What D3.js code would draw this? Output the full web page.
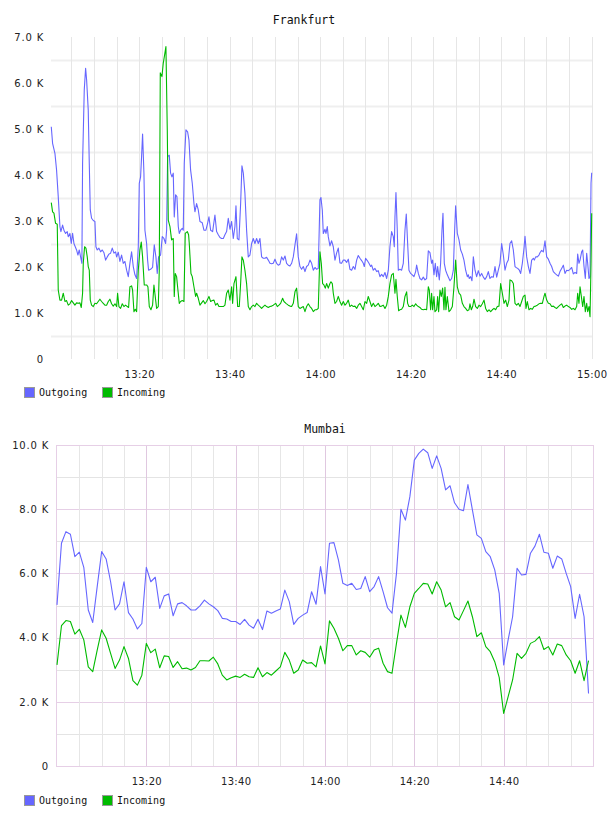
<!DOCTYPE html>
<html>
<head>
<meta charset="utf-8">
<script src="https://cdn.jsdelivr.net/npm/d3@7"></script>
<style>
body { margin: 0; background: #fff; }
svg text { font-family: "DejaVu Sans", sans-serif; }
</style>
</head>
<body>
<div id="wrapper"></div>
<script>
const seriesNames = ["Outgoing", "Incoming"];
const seriesColors = ["#6666ff", "#00bb00"];

// Frankfurt: [minutes after 13:00, value in K]
const fraOut = [
  [0.56,5.05],[0.85,4.69],[1.37,4.47],[1.73,4.11],[2.10,3.53],[2.47,2.88],[2.69,2.77],[3.06,2.91],[3.36,2.80],[3.72,2.73],
  [4.09,2.77],[4.31,2.66],[4.68,2.73],[4.98,2.51],[5.27,2.73],[5.57,2.51],[5.86,2.44],[6.15,2.37],[6.45,2.26],[6.74,2.37],
  [7.04,2.22],[7.33,2.08],[7.48,4.25],[7.85,5.85],[8.15,6.32],[8.37,6.07],[8.73,5.41],[8.96,4.25],[9.18,3.24],[9.47,3.06],
  [9.84,3.01],[10.21,2.99],[10.43,2.44],[10.72,2.37],[11.09,2.41],[11.46,2.33],[11.83,2.37],[12.20,2.31],[12.57,2.15],[12.93,2.22],
  [13.30,2.28],[13.67,2.30],[14.04,2.41],[14.41,2.30],[14.78,2.33],[15.00,2.22],[15.37,2.32],[15.73,2.12],[16.10,2.26],[16.47,2.08],
  [16.84,2.12],[17.21,1.93],[17.58,1.79],[17.94,2.08],[18.31,2.33],[18.68,2.01],[19.05,1.83],[19.42,1.75],[19.79,2.44],[20.01,3.82],
  [20.30,3.96],[20.52,4.40],[20.74,4.89],[21.04,4.04],[21.26,2.80],[21.63,2.51],[21.85,2.15],[22.07,1.93],[22.51,1.95],[22.95,1.99],
  [23.32,2.48],[23.69,2.22],[23.98,1.86],[24.28,2.22],[24.72,2.26],[25.09,2.66],[25.46,2.62],[25.83,2.51],[26.05,2.80],[26.27,4.40],
  [26.64,4.43],[26.93,4.04],[27.23,3.96],[27.52,4.04],[27.74,3.09],[28.04,3.57],[28.33,3.53],[28.63,2.88],[28.85,2.73],[29.14,2.80],
  [29.51,2.84],[29.73,2.80],[29.95,4.25],[30.32,4.98],[30.69,4.94],[30.99,4.76],[31.35,4.11],[31.72,3.82],[32.09,3.38],[32.31,3.20],
  [32.68,3.38],[33.05,3.24],[33.42,2.99],[33.93,2.96],[34.30,2.80],[34.74,2.80],[35.11,2.95],[35.41,3.09],[35.78,2.80],[36.22,2.77],
  [36.73,3.13],[37.10,2.77],[37.47,2.70],[37.84,2.64],[38.21,2.62],[38.58,2.62],[38.94,2.70],[39.31,2.77],[39.68,3.06],[40.05,2.82],
  [40.42,2.99],[40.79,2.62],[41.15,2.88],[41.38,3.33],[41.67,2.62],[42.04,2.59],[42.41,3.38],[42.70,4.20],[43.00,4.04],[43.36,3.60],
  [43.73,2.80],[44.10,2.22],[44.47,2.26],[44.84,2.51],[45.21,2.62],[45.57,2.51],[45.94,2.62],[46.31,2.51],[46.68,2.62],[47.05,2.22],
  [47.42,2.19],[47.79,2.19],[48.15,2.21],[48.52,2.15],[48.89,2.08],[49.26,2.07],[49.63,2.08],[50.00,2.17],[50.36,2.08],[50.73,2.04],
  [51.10,2.06],[51.47,2.22],[51.84,2.15],[52.21,2.24],[52.57,2.08],[52.94,2.04],[53.31,2.02],[53.68,2.08],[54.05,2.22],[54.42,2.48],
  [54.78,2.72],[55.15,2.22],[55.52,2.01],[55.89,1.95],[56.26,2.01],[56.63,1.90],[56.99,2.01],[57.36,2.04],[57.73,2.15],[58.10,2.08],
  [58.47,1.93],[58.84,1.99],[59.21,1.95],[59.57,1.97],[59.94,3.46],[60.16,3.51],[60.46,3.24],[60.68,2.73],[61.05,2.82],[61.27,2.73],
  [61.56,2.88],[61.78,2.66],[62.15,2.46],[62.52,2.57],[62.89,2.44],[63.26,2.15],[63.62,2.30],[63.99,2.41],[64.36,2.09],[64.73,2.08],
  [65.10,2.15],[65.47,2.15],[65.83,2.10],[66.20,2.17],[66.57,1.95],[66.94,1.93],[67.31,2.01],[67.68,1.95],[68.05,2.15],[68.41,2.25],
  [68.78,2.19],[69.15,2.14],[69.52,2.08],[69.74,2.01],[70.03,2.19],[70.40,2.14],[70.77,2.08],[71.14,2.01],[71.36,2.04],[71.73,1.93],
  [72.10,1.97],[72.47,1.90],[72.83,1.92],[73.20,1.79],[73.57,1.84],[73.94,1.79],[74.31,1.88],[74.68,1.75],[75.05,1.93],[75.41,2.44],
  [75.78,2.77],[76.15,2.66],[76.37,2.44],[76.52,3.09],[76.74,3.62],[77.03,2.80],[77.26,1.93],[77.62,1.95],[77.99,1.93],[78.36,2.08],
  [78.73,2.80],[79.02,3.15],[79.32,2.51],[79.61,1.93],[79.98,1.86],[80.35,1.83],[80.72,1.79],[81.09,1.90],[81.31,2.04],[81.68,1.86],
  [82.04,1.75],[82.41,1.72],[82.78,1.78],[83.15,1.72],[83.52,1.75],[83.89,2.35],[84.26,2.31],[84.62,2.08],[84.84,2.15],[85.14,1.83],
  [85.43,2.08],[85.73,1.79],[85.95,2.01],[86.32,1.72],[86.61,2.08],[86.91,2.80],[87.13,3.17],[87.42,2.08],[87.72,1.93],[88.09,1.83],
  [88.68,1.70],[89.05,1.75],[89.42,1.93],[89.71,2.80],[89.93,3.33],[90.30,2.73],[90.67,2.59],[91.04,2.37],[91.41,2.28],[91.77,2.15],
  [92.14,1.93],[92.51,1.79],[92.73,1.83],[92.95,1.75],[93.25,1.79],[93.54,1.70],[93.84,2.22],[94.21,1.93],[94.57,1.79],[94.94,1.92],
  [95.31,1.80],[95.68,1.86],[96.05,1.78],[96.42,1.73],[96.79,1.79],[97.15,1.90],[97.52,1.75],[97.89,1.79],[98.26,1.78],[98.63,2.01],
  [99.00,1.78],[99.36,1.93],[99.73,2.08],[100.10,2.51],[100.47,2.26],[100.84,1.93],[101.21,2.08],[101.57,2.15],[101.94,2.51],[102.31,2.57],
  [102.68,2.37],[103.05,2.01],[103.27,1.99],[103.64,1.97],[104.01,1.93],[104.30,1.86],[104.67,2.08],[105.04,2.41],[105.26,2.67],[105.63,2.22],
  [106.00,2.01],[106.36,1.86],[106.73,2.15],[107.10,2.19],[107.32,2.15],[107.62,2.22],[107.98,2.22],[108.35,2.26],[108.57,2.31],[108.94,2.36],
  [109.31,2.33],[109.68,2.57],[110.05,2.22],[110.42,2.17],[110.78,2.08],[111.15,2.01],[111.52,1.90],[111.89,1.86],[112.26,1.83],[112.63,1.80],
  [112.99,1.90],[113.36,1.97],[113.73,2.04],[114.10,1.86],[114.47,1.93],[114.84,1.92],[115.20,1.95],[115.57,1.99],[115.94,1.85],[116.31,1.88],
  [116.68,1.86],[116.90,2.28],[117.19,2.08],[117.42,2.15],[117.78,2.33],[118.01,2.37],[118.30,2.01],[118.59,1.75],[118.89,2.30],[119.11,2.08],
  [119.40,1.75],[119.63,1.79],[119.85,3.82],[120.00,4.05]
];

const fraIn = [
  [0.56,3.40],[0.85,3.20],[1.15,3.17],[1.51,2.95],[1.88,2.93],[2.10,1.50],[2.47,1.28],[2.84,1.28],[3.21,1.43],[3.58,1.25],
  [3.94,1.27],[4.31,1.17],[4.68,1.20],[5.05,1.27],[5.42,1.22],[5.79,1.17],[6.15,1.22],[6.52,1.21],[6.89,1.22],[7.19,1.12],
  [7.48,1.43],[7.63,2.08],[7.92,2.44],[8.22,2.41],[8.51,2.22],[8.73,2.01],[8.96,1.93],[9.18,1.28],[9.47,1.17],[9.84,1.14],
  [10.21,1.21],[10.58,1.20],[10.94,1.25],[11.31,1.30],[11.68,1.25],[12.05,1.21],[12.42,1.17],[12.79,1.17],[13.16,1.25],[13.52,1.30],
  [13.89,1.20],[14.26,1.15],[14.63,1.20],[15.00,1.14],[15.22,1.43],[15.51,1.14],[15.88,1.10],[16.25,1.20],[16.62,1.14],[16.99,1.17],
  [17.36,1.14],[17.65,1.12],[17.94,1.57],[18.31,1.59],[18.53,1.50],[18.83,1.03],[19.12,1.08],[19.42,1.03],[19.79,1.93],[20.15,2.37],
  [20.45,2.54],[20.74,2.22],[21.11,1.61],[21.63,1.61],[21.92,1.57],[22.22,1.14],[22.59,1.07],[22.95,1.17],[23.25,1.61],[23.54,1.36],
  [23.84,1.10],[24.21,1.14],[24.43,1.93],[24.65,6.22],[25.02,6.14],[25.31,6.43],[25.61,6.61],[25.90,6.79],[26.20,4.98],[26.42,3.02],
  [26.79,2.88],[27.15,2.59],[27.52,2.62],[27.74,1.36],[27.96,1.86],[28.26,1.79],[28.55,1.50],[28.85,1.21],[29.14,1.25],[29.51,1.27],
  [29.88,1.25],[30.17,2.73],[30.62,2.77],[30.91,2.70],[31.06,2.51],[31.43,1.86],[31.72,1.79],[32.09,1.57],[32.46,1.36],[32.68,1.43],
  [33.05,1.32],[33.42,1.17],[33.79,1.22],[34.16,1.27],[34.53,1.20],[34.89,1.25],[35.41,1.36],[35.78,1.25],[36.15,1.27],[36.52,1.28],
  [36.88,1.17],[37.25,1.21],[37.62,1.14],[38.21,1.14],[38.58,1.14],[38.94,1.17],[39.31,1.43],[39.68,1.50],[40.05,1.28],[40.42,1.57],
  [40.64,1.21],[40.94,1.64],[41.38,1.79],[41.75,1.14],[42.11,1.14],[42.41,1.64],[42.70,2.22],[43.00,2.15],[43.36,1.93],[43.73,1.64],
  [44.10,1.14],[44.47,1.07],[44.84,1.14],[45.21,1.17],[45.57,1.14],[45.94,1.21],[46.31,1.17],[46.68,1.14],[47.05,1.10],[47.42,1.14],
  [47.79,1.17],[48.15,1.14],[48.52,1.12],[48.89,1.14],[49.26,1.15],[49.63,1.17],[50.15,1.21],[50.52,1.14],[50.88,1.17],[51.25,1.21],
  [51.69,1.32],[51.99,1.25],[52.43,1.21],[52.94,1.17],[53.31,1.15],[53.68,1.14],[54.05,1.21],[54.42,1.46],[54.78,1.54],[55.15,1.14],
  [55.52,1.10],[55.89,1.12],[56.26,1.14],[56.63,1.03],[56.99,1.14],[57.36,1.20],[57.73,1.14],[58.10,1.10],[58.47,1.03],[58.84,1.07],
  [59.21,1.07],[59.57,1.10],[59.94,2.33],[60.24,2.08],[60.53,1.64],[60.82,1.61],[61.12,1.54],[61.41,1.64],[61.78,1.54],[62.15,1.64],
  [62.37,1.68],[62.67,1.64],[62.89,1.43],[63.26,1.21],[63.62,1.25],[63.99,1.36],[64.36,1.25],[64.73,1.17],[65.10,1.25],[65.47,1.17],
  [65.83,1.21],[66.20,1.28],[66.57,1.14],[66.94,1.17],[67.31,1.14],[67.68,1.15],[68.05,1.10],[68.41,1.17],[68.78,1.21],[69.15,1.14],
  [69.52,1.07],[69.89,1.25],[70.26,1.21],[70.62,1.36],[70.99,1.25],[71.36,1.14],[71.73,1.21],[72.10,1.14],[72.47,1.17],[72.83,1.21],
  [73.20,1.14],[73.57,1.15],[73.94,1.17],[74.31,1.10],[74.68,1.17],[75.05,1.36],[75.41,1.64],[75.78,1.83],[76.15,1.86],[76.52,1.43],
  [76.74,1.73],[77.03,1.36],[77.33,1.05],[77.62,1.07],[77.99,1.08],[78.36,1.14],[78.73,1.36],[79.10,1.46],[79.32,1.21],[79.61,1.14],
  [79.98,1.14],[80.35,1.17],[80.72,1.14],[81.09,1.20],[81.31,1.17],[81.68,1.14],[82.04,1.12],[82.41,1.08],[82.78,1.07],[83.15,1.08],
  [83.52,1.07],[83.89,1.57],[84.11,1.50],[84.40,1.07],[84.62,1.43],[84.84,1.07],[85.14,1.36],[85.36,1.03],[85.73,1.07],[85.95,1.36],
  [86.17,1.03],[86.47,1.50],[86.76,1.36],[87.06,1.54],[87.35,1.07],[87.57,1.56],[87.79,1.07],[88.09,1.36],[88.46,1.03],[88.83,1.07],
  [89.20,1.14],[89.56,1.57],[89.93,2.15],[90.30,1.57],[90.67,1.43],[91.04,1.39],[91.41,1.21],[91.77,1.14],[92.14,1.10],[92.51,1.05],
  [92.88,1.07],[93.10,1.20],[93.40,1.07],[93.69,1.14],[93.99,1.30],[94.35,1.14],[94.72,1.10],[95.09,1.17],[95.46,1.14],[95.83,1.20],
  [96.20,1.28],[96.56,1.10],[96.93,1.03],[97.30,1.07],[97.67,1.03],[98.04,1.07],[98.41,1.10],[98.77,1.07],[99.14,1.14],[99.51,1.15],
  [99.88,1.64],[100.25,1.43],[100.62,1.21],[100.99,1.28],[101.35,1.14],[101.72,1.28],[101.94,1.72],[102.31,1.70],[102.68,1.64],[103.05,1.21],
  [103.42,1.17],[103.78,1.21],[104.15,1.14],[104.52,1.25],[104.89,1.36],[105.26,1.39],[105.48,1.10],[105.77,1.25],[106.14,1.07],[106.51,1.10],
  [106.88,1.08],[107.25,1.14],[107.62,1.15],[107.98,1.17],[108.35,1.20],[108.72,1.21],[109.09,1.21],[109.46,1.36],[109.68,1.43],[110.05,1.28],
  [110.42,1.21],[110.78,1.20],[111.15,1.14],[111.52,1.15],[111.89,1.12],[112.26,1.10],[112.63,1.14],[112.99,1.17],[113.36,1.20],[113.73,1.12],
  [114.10,1.15],[114.47,1.17],[114.84,1.14],[115.20,1.12],[115.57,1.08],[115.94,1.10],[116.31,1.07],[116.68,1.14],[116.90,1.43],[117.19,1.21],
  [117.42,1.57],[117.71,1.36],[118.01,1.14],[118.30,1.36],[118.59,1.03],[118.89,1.21],[119.11,1.03],[119.40,1.14],[119.63,0.92],[119.85,2.08],
  [120.00,3.17]
];
const fraTicks = ["13:20", "13:40", "14:00", "14:20", "14:40", "15:00"];
const fraYTicks = [0, 1, 2, 3, 4, 5, 6, 7];

// Mumbai: one sample per minute from 13:00, value in K
const mumOut = [
  5.02,6.94,7.30,7.22,6.52,6.66,6.19,4.86,4.47,5.59,
  6.68,6.45,5.74,4.86,5.05,5.74,4.78,4.58,4.27,4.44,
  6.19,5.74,5.88,4.91,5.30,5.36,4.68,5.05,5.09,4.99,
  4.86,4.86,4.99,5.17,5.05,4.96,4.84,4.60,4.58,4.50,
  4.50,4.41,4.57,4.39,4.29,4.57,4.25,4.83,4.76,4.83,
  4.89,5.48,5.12,4.41,4.60,4.70,4.78,5.43,5.04,6.21,
  5.36,6.94,6.96,6.42,5.69,5.62,5.69,5.50,5.53,5.90,
  5.43,5.59,5.90,5.43,4.93,4.76,6.00,8.00,7.66,8.39,
  9.53,9.74,9.87,9.76,9.27,9.66,9.27,8.60,8.73,8.20,
  8.00,7.95,8.77,7.98,7.20,7.09,6.68,6.52,6.11,5.38,
  3.15,3.93,4.65,6.16,5.95,5.97,6.63,6.85,7.22,6.66,
  6.63,6.16,6.54,6.45,6.00,5.59,4.60,5.35,4.65,2.26
];
const mumIn = [
  3.15,4.37,4.53,4.50,4.11,4.26,3.93,3.09,2.94,3.61,
  4.24,3.98,3.51,3.04,3.30,3.72,3.35,2.66,2.52,2.83,
  3.82,3.53,3.64,3.06,3.43,3.41,3.07,3.25,3.03,3.05,
  2.99,3.07,3.28,3.28,3.27,3.39,3.18,2.83,2.68,2.75,
  2.80,2.76,2.86,2.78,2.76,3.06,2.78,2.91,2.83,2.96,
  3.09,3.54,3.30,2.89,2.99,3.30,3.20,3.22,3.09,3.74,
  3.18,4.52,4.29,3.98,3.59,3.75,3.75,3.46,3.59,3.54,
  3.39,3.61,3.67,3.20,2.94,2.89,3.82,4.70,4.32,4.96,
  5.38,5.53,5.69,5.67,5.36,5.74,5.48,4.96,5.09,4.65,
  4.55,4.84,5.14,4.65,4.03,4.15,3.72,3.56,3.25,2.76,
  1.64,2.16,2.68,3.51,3.35,3.51,3.82,3.89,4.03,3.63,
  3.72,3.46,3.80,3.75,3.46,3.28,2.89,3.28,2.66,3.28
];
const mumTicks = ["13:20", "13:40", "14:00", "14:20", "14:40"];
const mumYTicks = [0, 2, 4, 6, 8, 10];

const parseTime = d3.timeParse("%H:%M");
const startTime = parseTime("13:00");
const atMinute = m => new Date(+startTime + m * 60000);
const kFormat = d => d === 0 ? "0" : d.toFixed(1) + " K";

const svg = d3.select("#wrapper")
  .append("svg")
  .attr("width", 608)
  .attr("height", 816);

function drawChart(cfg) {
  const xScale = d3.scaleTime()
    .domain(cfg.xDomain)
    .range([cfg.left, cfg.right]);
  const yScale = d3.scaleLinear()
    .domain([0, cfg.yMax])
    .range([cfg.bottom, cfg.top]);

  const g = svg.append("g");
  const crisp = v => Math.round(v) + 0.5;

  // horizontal grid
  g.append("g").selectAll("line")
    .data(cfg.hGrid)
    .join("line")
    .attr("x1", cfg.gridLeft).attr("x2", cfg.gridRight)
    .attr("y1", d => crisp(yScale(d.v))).attr("y2", d => crisp(yScale(d.v)))
    .attr("stroke", d => d.color)
    .attr("stroke-width", d => d.width);

  // vertical grid every 5 minutes
  g.append("g").selectAll("line")
    .data(cfg.vGrid)
    .join("line")
    .attr("x1", d => crisp(xScale(d.t))).attr("x2", d => crisp(xScale(d.t)))
    .attr("y1", cfg.top).attr("y2", cfg.bottom)
    .attr("stroke", d => d.color)
    .attr("stroke-width", 1);

  if (cfg.frame) {
    g.append("rect")
      .attr("x", cfg.gridLeft + 0.5)
      .attr("y", crisp(yScale(cfg.yMax)))
      .attr("width", cfg.gridRight - cfg.gridLeft - 1)
      .attr("height", Math.round(yScale(0)) - Math.round(yScale(cfg.yMax)))
      .attr("fill", "none")
      .attr("stroke", cfg.frame);
  }

  const lineGenerator = d3.line()
    .x(d => xScale(d.time))
    .y(d => yScale(d.value));

  cfg.series.forEach((s, i) => {
    g.append("path")
      .attr("d", lineGenerator(s))
      .attr("fill", "none")
      .attr("stroke", seriesColors[i])
      .attr("stroke-width", 1.1)
      .attr("stroke-linejoin", "round");
  });

  const yAxis = g.append("g")
    .attr("transform", `translate(${cfg.gridLeft},0)`)
    .call(d3.axisLeft(yScale).tickValues(cfg.yTicks).tickFormat(kFormat).tickSize(0).tickPadding(7));
  yAxis.select(".domain").remove();
  yAxis.selectAll("text")
    .attr("font-size", 10)
    .attr("letter-spacing", 0.8)
    .attr("fill", "#222")
    .style("font-family", "'DejaVu Sans', sans-serif");

  const xAxis = g.append("g")
    .attr("transform", `translate(0,${cfg.bottom})`)
    .call(d3.axisBottom(xScale).tickValues(cfg.xTicks.map(parseTime)).tickFormat(d3.timeFormat("%H:%M")).tickSize(0).tickPadding(11.5));
  xAxis.select(".domain").remove();
  xAxis.selectAll("text")
    .attr("font-size", 10)
    .attr("letter-spacing", 0.3)
    .attr("fill", "#222")
    .style("font-family", "'DejaVu Sans', sans-serif");

  g.append("text")
    .attr("x", cfg.titleX)
    .attr("y", cfg.titleY)
    .attr("text-anchor", "middle")
    .style("font-family", "'DejaVu Sans Mono', monospace")
    .attr("font-size", 11.5)
    .attr("fill", "#111")
    .text(cfg.title);

  const legend = g.append("g").attr("transform", `translate(24,${cfg.legendY})`);
  seriesNames.forEach((name, i) => {
    const item = legend.append("g").attr("transform", `translate(${i * 78},0)`);
    item.append("rect")
      .attr("x", 0.5).attr("y", -4.5)
      .attr("width", 10).attr("height", 10)
      .attr("fill", seriesColors[i])
      .attr("stroke", "#999");
    item.append("text")
      .attr("x", 15).attr("y", 4)
      .style("font-family", "'DejaVu Sans Mono', monospace")
      .attr("font-size", 10)
      .attr("fill", "#111")
      .text(name);
  });
}

const toSeries = arr => arr.map(([m, v]) => ({ time: atMinute(m), value: v }));
const perMinute = arr => arr.map((v, i) => ({ time: atMinute(i), value: v }));

// Frankfurt
const fraHGrid = d3.range(0.5, 7, 1).map(v => ({ v, color: "#efefef", width: 2 }));
const fraVGrid = d3.range(5, 121, 5).map(m => ({ t: atMinute(m), color: "#e6e6e6" }));
drawChart({
  title: "Frankfurt", titleX: 304, titleY: 24,
  xDomain: [atMinute(0.5), atMinute(120)],
  left: 51, right: 591.7, top: 37, bottom: 359,
  gridLeft: 51, gridRight: 593,
  yMax: 7, yTicks: fraYTicks, xTicks: fraTicks,
  hGrid: fraHGrid, vGrid: fraVGrid, frame: null,
  series: [toSeries(fraOut), toSeries(fraIn)],
  legendY: 392
});

// Mumbai
const mumHGrid = d3.range(1, 10, 1).map(v => ({ v, color: v % 2 === 0 ? "#e6cfe6" : "#e4e4e4", width: 1 }));
const mumVGrid = d3.range(5, 120, 5).map(m => ({ t: atMinute(m), color: m % 20 === 0 ? "#e0c8e0" : "#e6e6e6" }));
drawChart({
  title: "Mumbai", titleX: 325, titleY: 433,
  xDomain: [atMinute(0), atMinute(120)],
  left: 57, right: 593, top: 445, bottom: 766,
  gridLeft: 56, gridRight: 594,
  yMax: 10, yTicks: mumYTicks, xTicks: mumTicks,
  hGrid: mumHGrid, vGrid: mumVGrid, frame: "#e6cfe6",
  series: [perMinute(mumOut), perMinute(mumIn)],
  legendY: 800
});
</script>
</body>
</html>
